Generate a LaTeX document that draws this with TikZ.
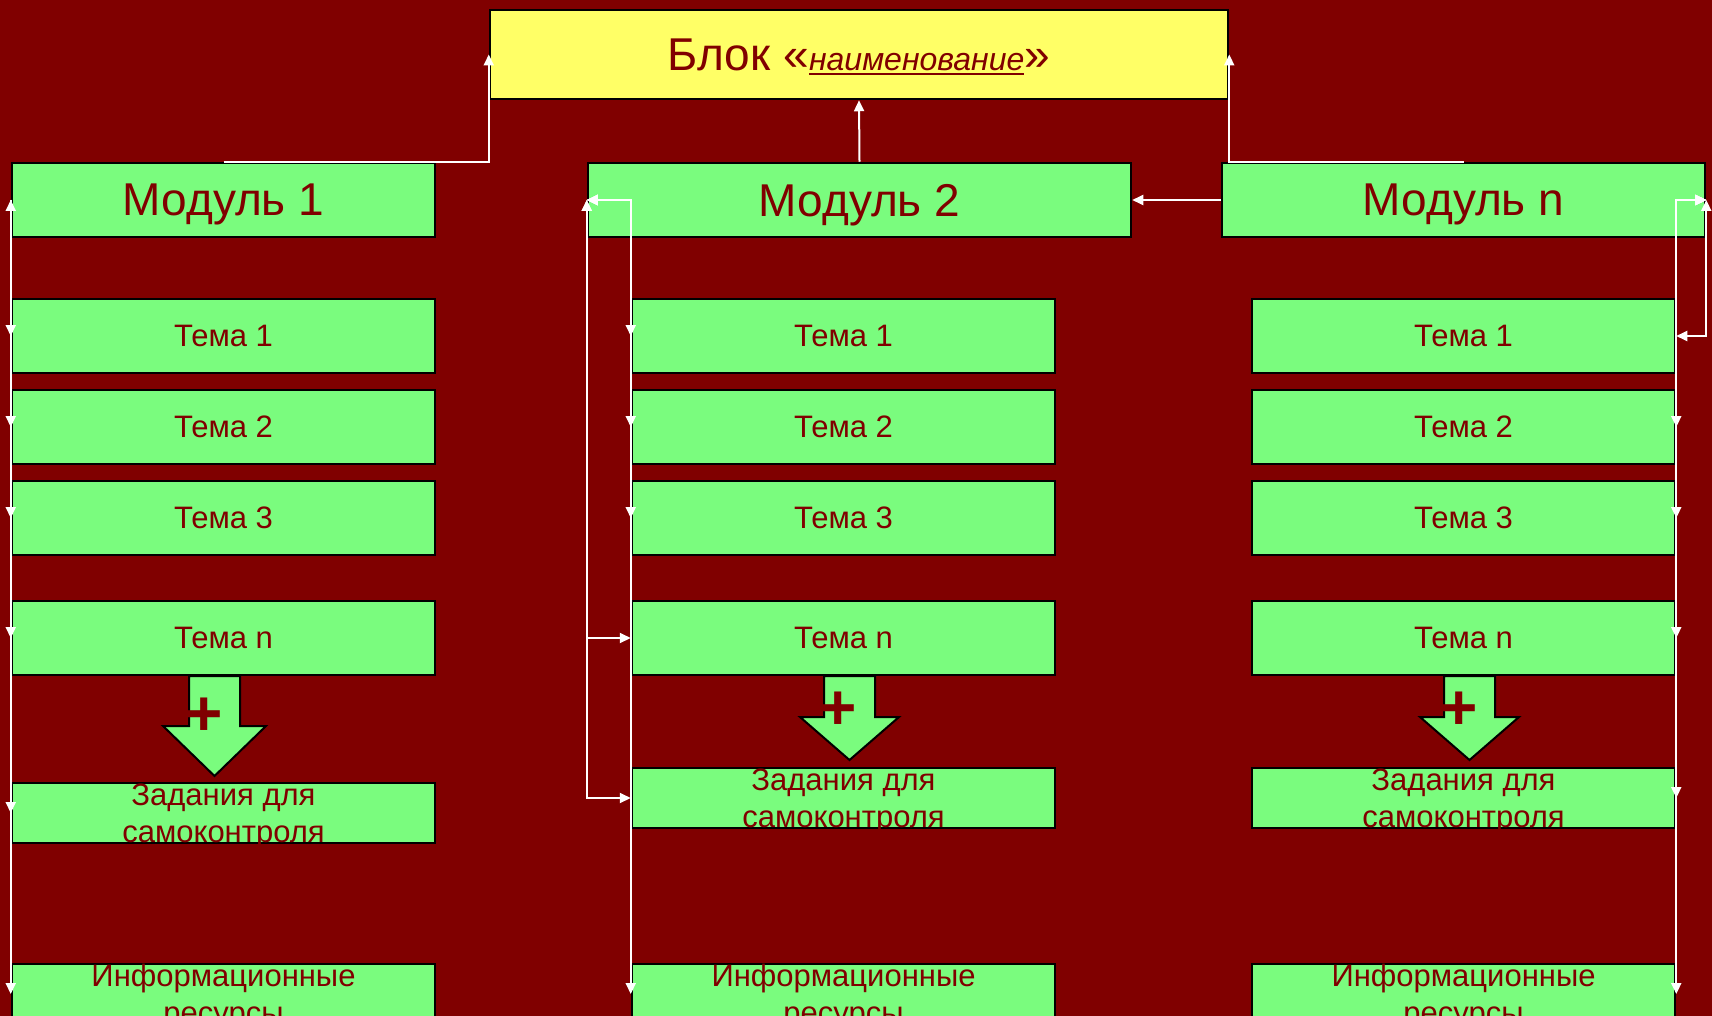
\documentclass[tikz,border=0pt]{standalone}
\usepackage{fontspec}
\setmainfont{Liberation Sans}
\newcommand{\ulword}[1]{\setbox0\hbox{#1}\rlap{\rule[-5pt]{\wd0}{2.7pt}}\box0}
\usetikzlibrary{arrows.meta}

\definecolor{bgred}{RGB}{128,0,0}
\definecolor{boxgreen}{RGB}{122,252,126}
\definecolor{boxyellow}{RGB}{255,255,102}

\begin{document}
\begin{tikzpicture}[x=1pt, y=-1pt, >={Triangle[length=11pt, width=10pt]},
    box/.style = {draw=black, line width=2.5pt, fill=boxgreen, text=bgred, inner sep=0pt, align=center},
    modbox/.style = {box, minimum height=74pt, text depth=0pt, font=\fontsize{46}{50}\selectfont},
    temabox/.style = {box, minimum width=423pt, minimum height=74pt, font=\fontsize{31}{35}\selectfont},
    taskbox/.style = {box, minimum width=423pt, minimum height=60pt, text depth=0pt, font=\fontsize{31}{37}\selectfont},
    bigarrow/.style = {draw=black, line width=2pt, fill=boxgreen},
    plus/.style = {text=bgred, inner sep=0pt, font=\fontsize{64}{64}\selectfont\bfseries},
    link/.style = {draw=white, line width=2pt}]
    \useasboundingbox (0,0) rectangle (1712,1016);
    \fill[bgred] (0,0) rectangle (1712,1016);

    \node[box, fill=boxyellow, minimum width=738pt, minimum height=89pt, text depth=0pt, font=\fontsize{46}{50}\selectfont] (blk) at (859, 54.5) {Блок «\ulword{\fontsize{32}{36}\selectfont\itshape наименование}»};

    \node[modbox, minimum width=423pt] (m1) at (223.5, 200) {Модуль 1};
    \node[modbox, minimum width=543pt] (m2) at (859.5, 200) {Модуль 2};
    \node[modbox, minimum width=483pt] (mn) at (1463.5, 200) {Модуль n};

    \node[temabox] (t11) at (223.5, 336) {Тема 1};
    \node[temabox] (t21) at (223.5, 427) {Тема 2};
    \node[temabox] (t31) at (223.5, 518) {Тема 3};
    \node[temabox] (tn1) at (223.5, 638) {Тема n};
    \node[taskbox] (z1) at (223.5, 813) {Задания для\\самоконтроля};
    \node[taskbox] (r1) at (223.5, 994) {Информационные\\ресурсы};

    \node[temabox] (t12) at (843.5, 336) {Тема 1};
    \node[temabox] (t22) at (843.5, 427) {Тема 2};
    \node[temabox] (t32) at (843.5, 518) {Тема 3};
    \node[temabox] (tn2) at (843.5, 638) {Тема n};
    \node[taskbox] (z2) at (843.5, 798) {Задания для\\самоконтроля};
    \node[taskbox] (r2) at (843.5, 994) {Информационные\\ресурсы};

    \node[temabox] (t1n) at (1463.5, 336) {Тема 1};
    \node[temabox] (t2n) at (1463.5, 427) {Тема 2};
    \node[temabox] (t3n) at (1463.5, 518) {Тема 3};
    \node[temabox] (tnn) at (1463.5, 638) {Тема n};
    \node[taskbox] (zn) at (1463.5, 798) {Задания для\\самоконтроля};
    \node[taskbox] (rn) at (1463.5, 994) {Информационные\\ресурсы};

    \draw[bigarrow] (189,676) -- (189,726) -- (163,726) -- (214.5,776) -- (266,726) -- (240,726) -- (240,676) -- cycle;
    \draw[bigarrow] (824,676) -- (824,717) -- (800,717) -- (849.5,760) -- (899,717) -- (875,717) -- (875,676) -- cycle;
    \draw[bigarrow] (1444,676) -- (1444,717) -- (1420,717) -- (1469.5,760) -- (1519,717) -- (1495,717) -- (1495,676) -- cycle;
    \node[plus] (p1) at (204, 717) {+};
    \node[plus] (p2) at (838, 711) {+};
    \node[plus] (pn) at (1459, 711) {+};

    \draw[link, ->] (m1.north) -| (blk.west);
    \draw[link, ->] (m2.north) -- (blk.south);
    \draw[link, ->] (mn.north) -| (blk.east);
    \draw[link, ->] (mn.west) -- (m2.east);

    \draw[link, <->] (m1.west) -- (t11.west);
    \draw[link, ->] (m1.west) -- (t21.west);
    \draw[link, ->] (m1.west) -- (t31.west);
    \draw[link, ->] (m1.west) -- (tn1.west);
    \draw[link, ->] (m1.west) -- (z1.west);
    \draw[link, ->] (m1.west) -- (r1.west);

    \draw[link, <->] (m2.west) -| (t12.west);
    \draw[link, <->] (m2.west) -| (t22.west);
    \draw[link, <->] (m2.west) -| (t32.west);
    \draw[link, <->] (m2.west) -| (r2.west);
    \draw[link, <->] (m2.west) |- (tn2.west);
    \draw[link, <->] (m2.west) |- (z2.west);

    \draw[link, <->] (mn.east) |- (t1n.east);
    \draw[link, <->] (mn.east) -| (t2n.east);
    \draw[link, <->] (mn.east) -| (t3n.east);
    \draw[link, <->] (mn.east) -| (tnn.east);
    \draw[link, <->] (mn.east) -| (zn.east);
    \draw[link, <->] (mn.east) -| (rn.east);

\end{tikzpicture}
\end{document}
